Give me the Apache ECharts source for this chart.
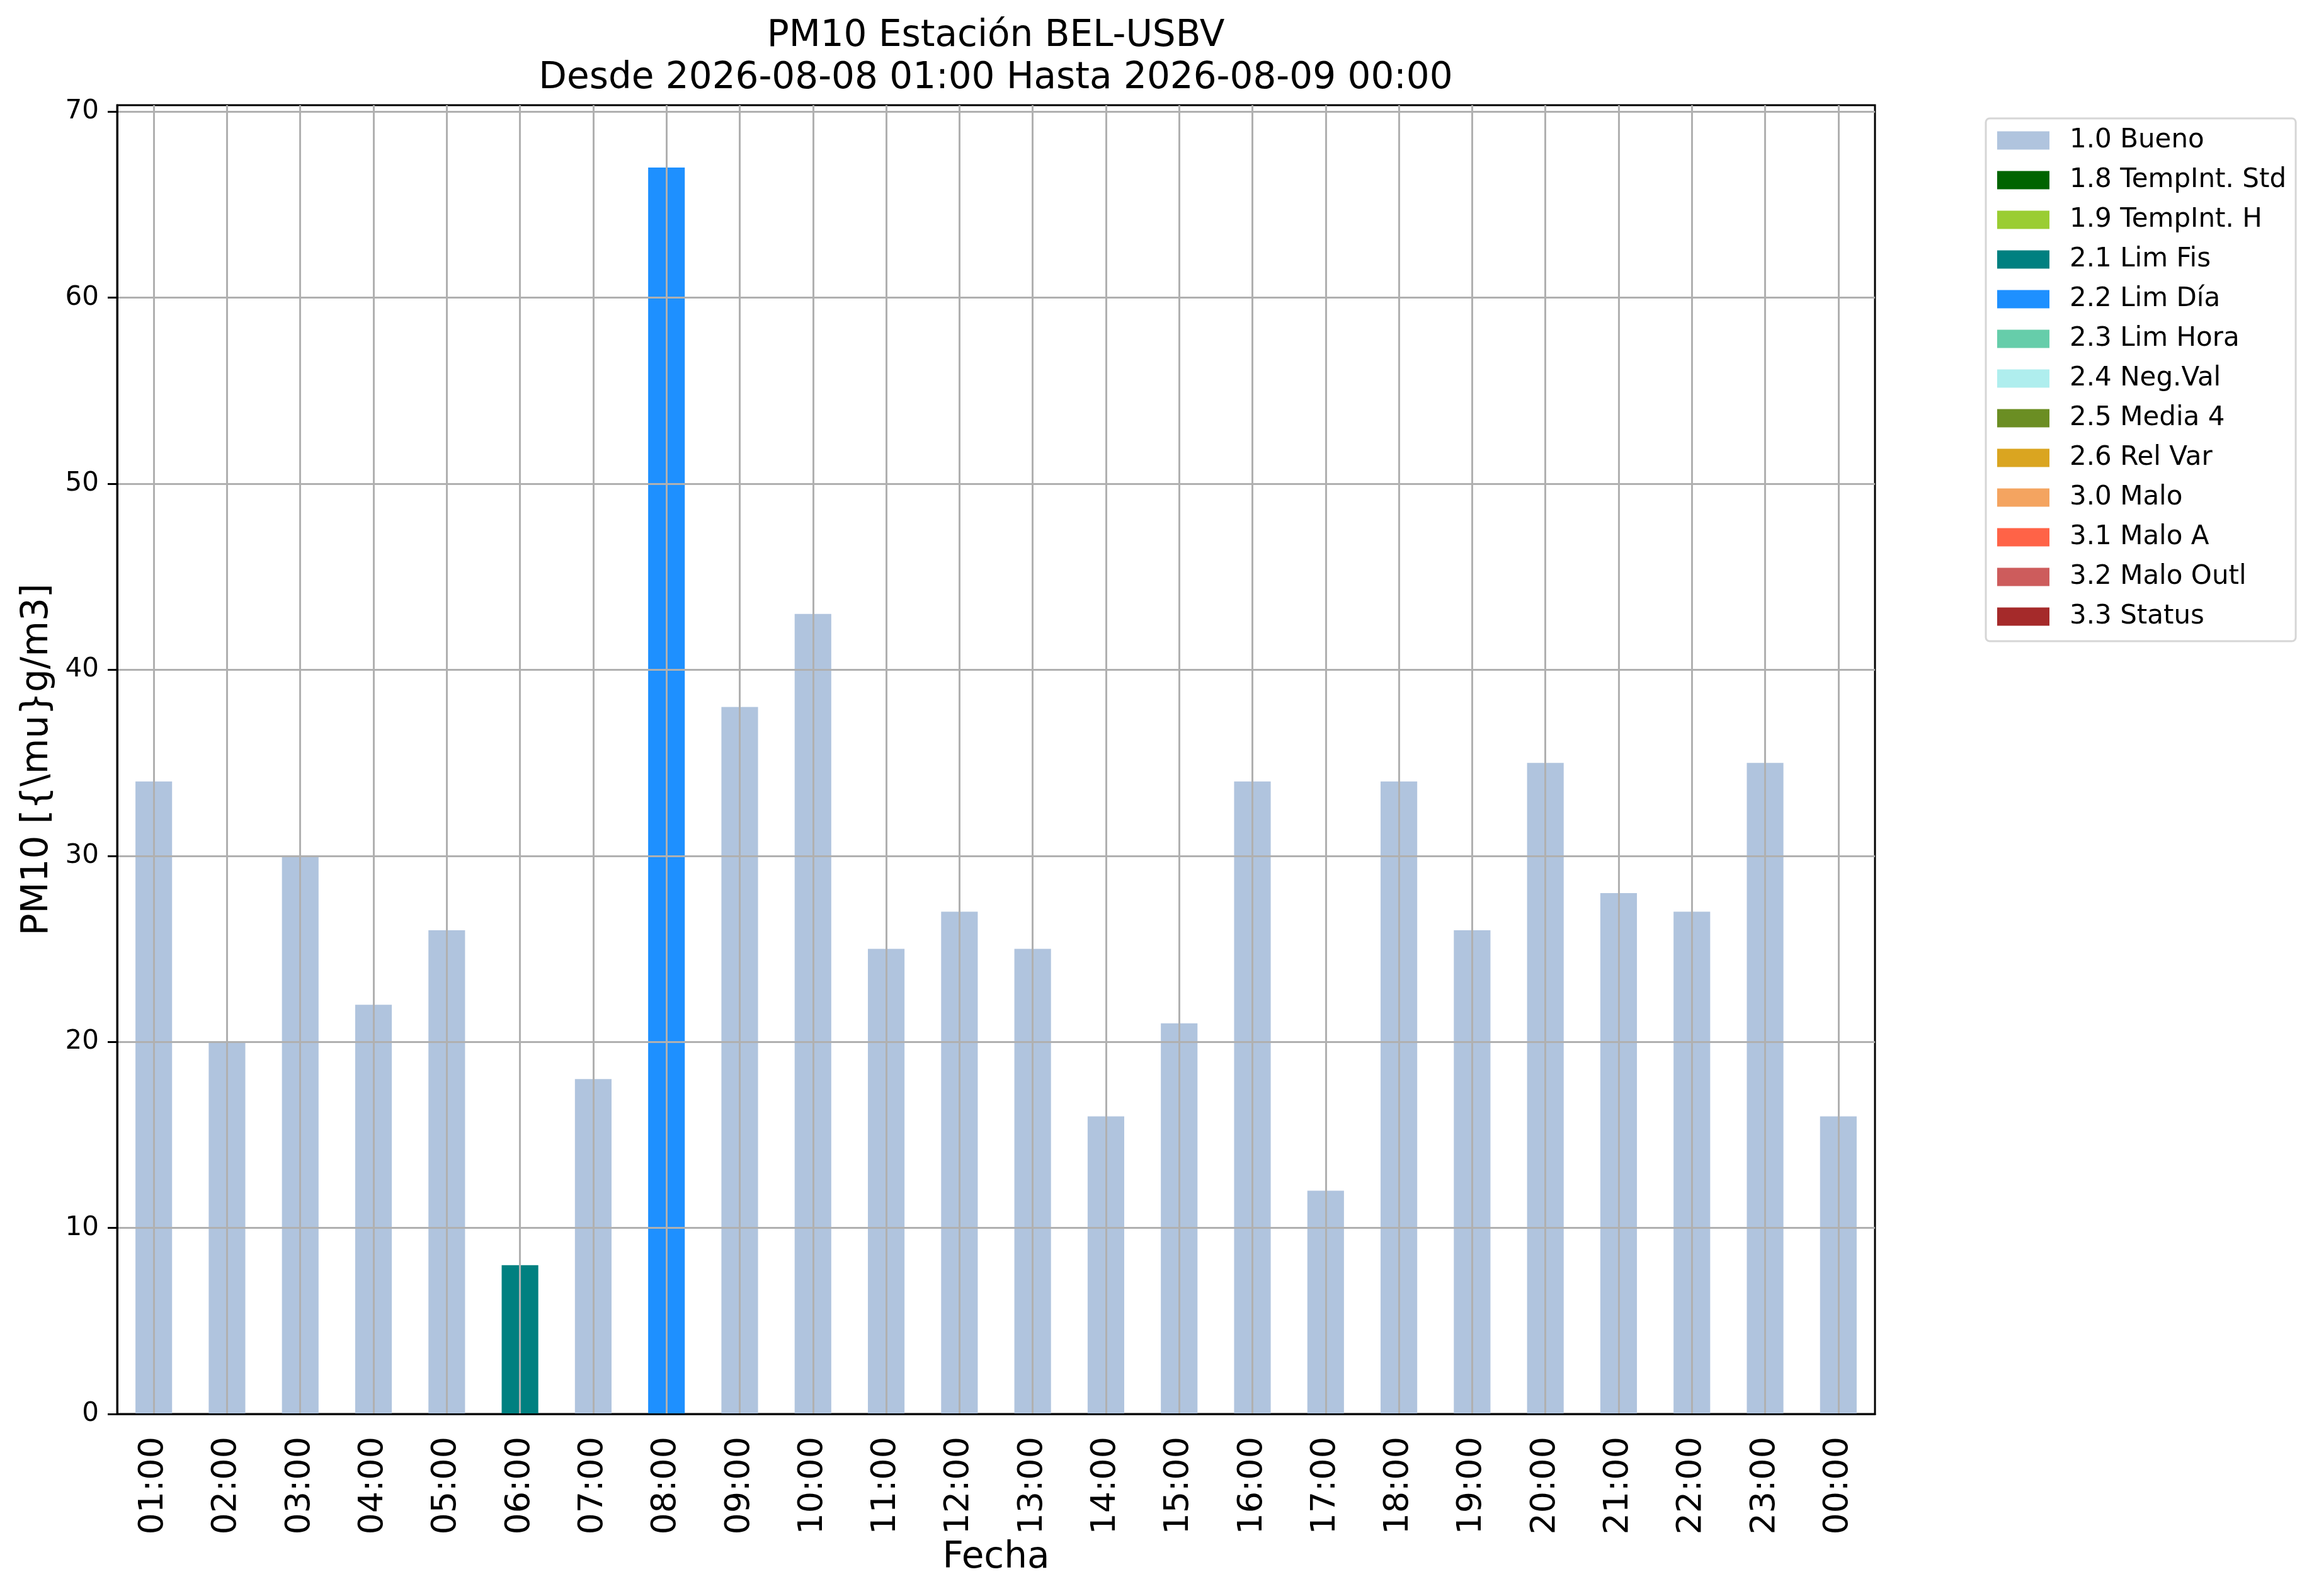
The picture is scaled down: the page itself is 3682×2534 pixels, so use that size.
<!DOCTYPE html>
<html>
<head>
<meta charset="utf-8">
<title>PM10 Estación BEL-USBV</title>
<script src="https://cdn.jsdelivr.net/npm/echarts@6/dist/echarts.min.js"></script>
<style>
  html, body { margin: 0; padding: 0; background: #fff; }
  #chart { width: 3682px; height: 2534px; }
</style>
</head>
<body>
<div id="chart"></div>
<script>
// horas del día (eje x)
var horas = ['01:00', '02:00', '03:00', '04:00', '05:00', '06:00', '07:00', '08:00',
             '09:00', '10:00', '11:00', '12:00', '13:00', '14:00', '15:00', '16:00',
             '17:00', '18:00', '19:00', '20:00', '21:00', '22:00', '23:00', '00:00'];

// PM10 en µg/m3
var valores = [34, 20, 30, 22, 26, 8, 18, 67, 38, 43, 25, 27,
               25, 16, 21, 34, 12, 34, 26, 35, 28, 27, 35, 16];

// bandera de validación de cada hora
var banderas = ['1.0 Bueno', '1.0 Bueno', '1.0 Bueno', '1.0 Bueno', '1.0 Bueno', '2.1 Lim Fis',
                '1.0 Bueno', '2.2 Lim Día', '1.0 Bueno', '1.0 Bueno', '1.0 Bueno', '1.0 Bueno',
                '1.0 Bueno', '1.0 Bueno', '1.0 Bueno', '1.0 Bueno', '1.0 Bueno', '1.0 Bueno',
                '1.0 Bueno', '1.0 Bueno', '1.0 Bueno', '1.0 Bueno', '1.0 Bueno', '1.0 Bueno'];

// categorías de la leyenda y sus colores
var categorias = ['1.0 Bueno', '1.8 TempInt. Std', '1.9 TempInt. H', '2.1 Lim Fis', '2.2 Lim Día',
                  '2.3 Lim Hora', '2.4 Neg.Val', '2.5 Media 4', '2.6 Rel Var', '3.0 Malo',
                  '3.1 Malo A', '3.2 Malo Outl', '3.3 Status'];
var colores = ['#b0c4de', '#006400', '#9acd32', '#008080', '#1e90ff',
               '#66cdaa', '#afeeee', '#6b8e23', '#daa520', '#f4a460',
               '#ff6347', '#cd5c5c', '#a52a2a'];

var series = categorias.map(function (cat, i) {
    return {
        name: cat,
        type: 'bar',
        stack: 'total',
        barWidth: '50%',
        itemStyle: { color: colores[i] },
        data: valores.map(function (v, j) { return banderas[j] === cat ? v : null; })
    };
});

var chart = echarts.init(document.getElementById('chart'));

var option = {
    animation: false,
    backgroundColor: '#fff',
    textStyle: { fontFamily: 'DejaVu Sans', color: '#000' },
    title: {
        text: 'PM10 Estación BEL-USBV\nDesde 2026-08-08 01:00 Hasta 2026-08-09 00:00',
        left: 1581,
        top: 24,
        textAlign: 'center',
        padding: 0,
        textStyle: {
            fontFamily: 'DejaVu Sans',
            fontSize: 58,
            lineHeight: 67,
            fontWeight: 'normal',
            color: '#000'
        }
    },
    legend: {
        orient: 'vertical',
        left: 3153,
        top: 188,
        padding: [14, 15, 18, 18],
        itemWidth: 83,
        itemHeight: 29,
        itemGap: 21,
        icon: 'rect',
        selectedMode: false,
        backgroundColor: '#fff',
        borderColor: '#d6d6d6',
        borderWidth: 3,
        borderRadius: 6,
        textStyle: {
            fontFamily: 'DejaVu Sans',
            fontSize: 42,
            lineHeight: 42,
            color: '#000',
            padding: [0, 0, 0, 27]
        },
        data: categorias
    },
    grid: {
        left: 186,
        top: 167,
        width: 2791,
        height: 2078,
        show: true,
        borderColor: '#000',
        borderWidth: 3,
        containLabel: false
    },
    xAxis: {
        type: 'category',
        data: horas,
        z: 3,
        name: 'Fecha',
        nameLocation: 'middle',
        nameGap: 195,
        nameTextStyle: { fontFamily: 'DejaVu Sans', fontSize: 58, color: '#000' },
        axisLine: { lineStyle: { color: '#000', width: 3 } },
        axisTick: { alignWithLabel: true, length: 15, lineStyle: { color: '#000', width: 3 } },
        axisLabel: {
            interval: 0,
            rotate: 90,
            margin: 36,
            fontSize: 54,
            color: '#000',
            fontFamily: 'DejaVu Sans'
        },
        splitLine: {
            show: true,
            interval: 0,
            alignWithLabel: true,
            lineStyle: { color: '#b0b0b0', width: 3 }
        }
    },
    yAxis: {
        type: 'value',
        min: 0,
        max: 70.35,
        interval: 10,
        z: 3,
        name: 'PM10 [{\\mu}g/m3]',
        nameLocation: 'middle',
        nameGap: 97,
        nameTextStyle: { fontFamily: 'DejaVu Sans', fontSize: 58, color: '#000' },
        axisLine: { show: true, lineStyle: { color: '#000', width: 3 } },
        axisTick: { show: true, length: 15, lineStyle: { color: '#000', width: 3 } },
        axisLabel: {
            margin: 29,
            fontSize: 42,
            color: '#000',
            fontFamily: 'DejaVu Sans',
            showMaxLabel: false,
            formatter: function (v) { return v % 10 === 0 ? String(v) : ''; }
        },
        splitLine: {
            show: true,
            showMaxLine: false,
            lineStyle: { color: '#b0b0b0', width: 3 }
        }
    },
    series: series
};

chart.setOption(option);
</script>
</body>
</html>
